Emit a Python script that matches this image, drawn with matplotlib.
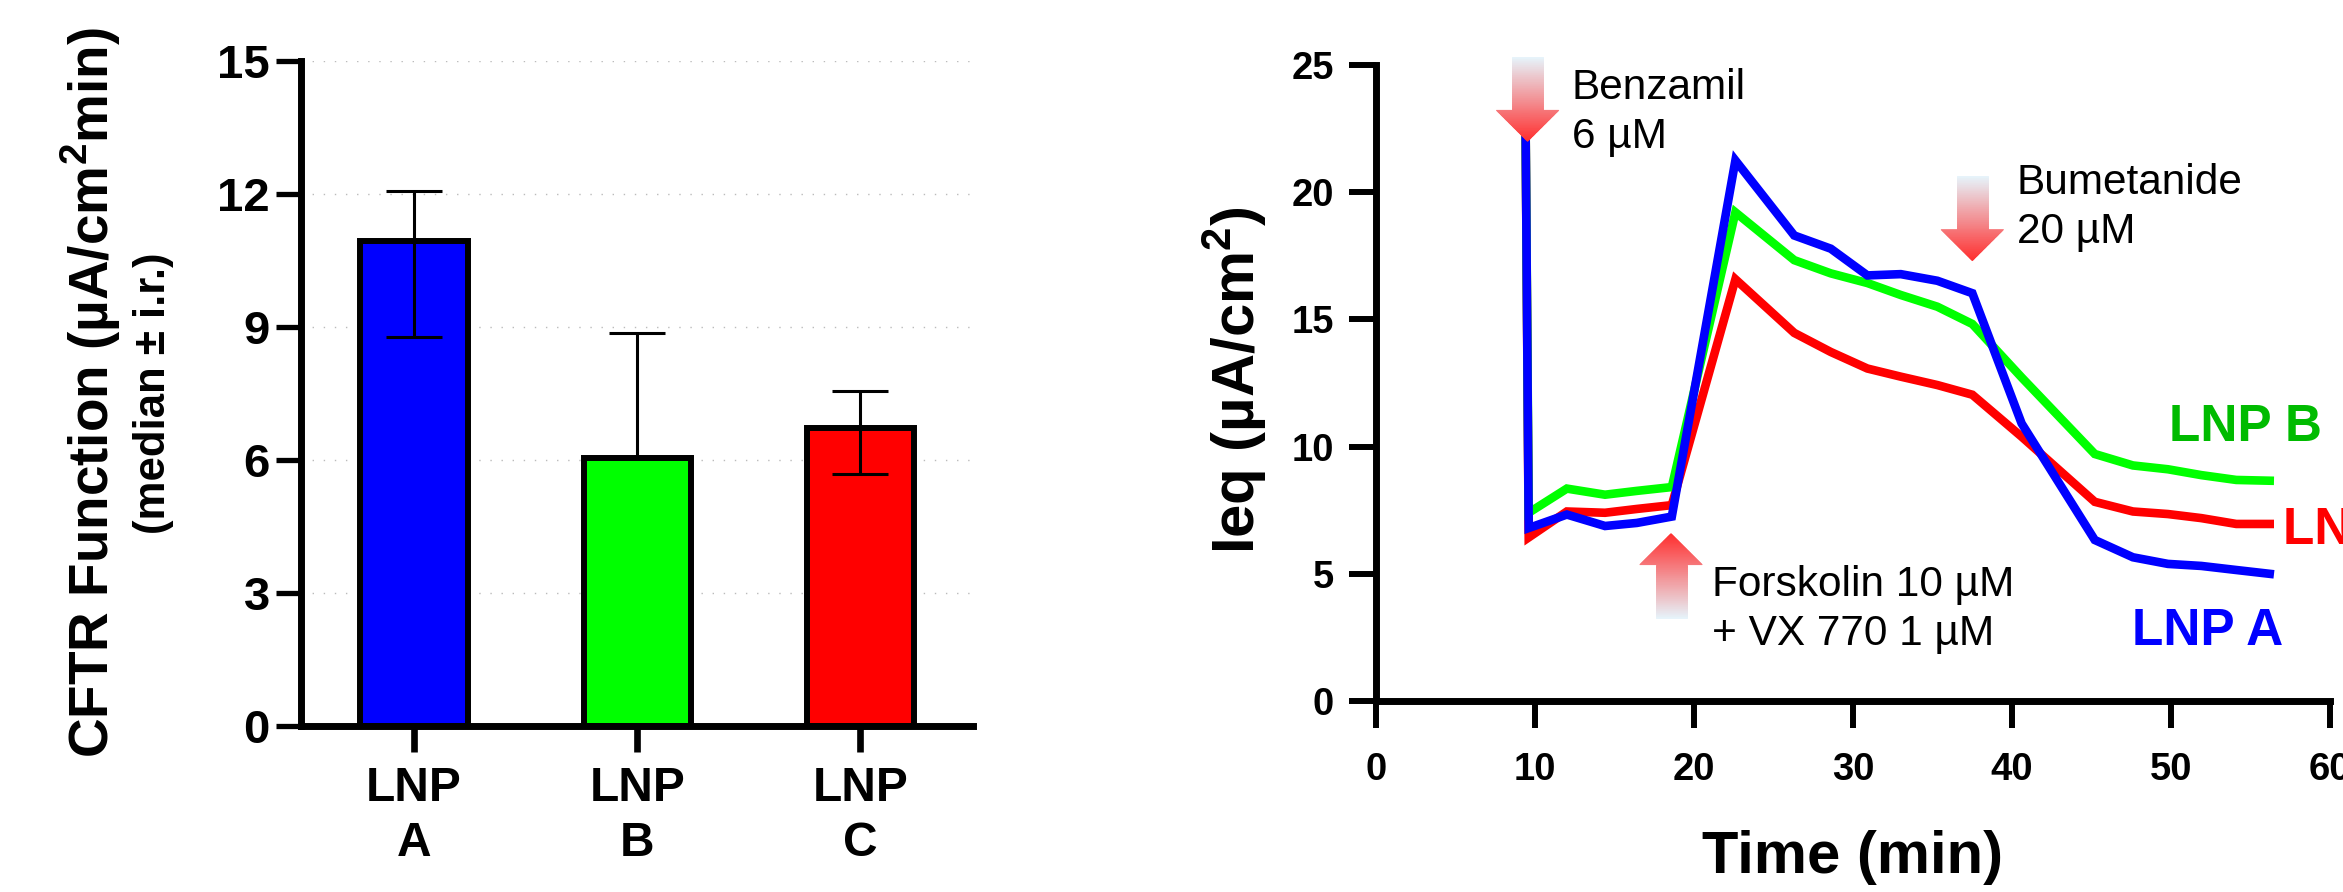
import numpy as np
import matplotlib
matplotlib.use("Agg")
from matplotlib import pyplot as plt
from matplotlib.collections import PolyCollection
from matplotlib.colors import LinearSegmentedColormap

plt.rcParams['font.family'] = ['Liberation Sans', 'DejaVu Sans']
plt.rcParams['mathtext.fontset'] = 'custom'
plt.rcParams['mathtext.rm'] = 'Liberation Sans'
plt.rcParams['mathtext.bf'] = 'Liberation Sans:bold'

# left panel: CFTR function, median with interquartile range
groups = ["LNP\nA", "LNP\nB", "LNP\nC"]
medians = [10.95, 6.05, 6.72]
lower = [8.78, 6.05, 5.68]
upper = [12.08, 8.88, 7.57]
bar_colors = ["#0000FF", "#00FF00", "#FF0000"]

# right panel: Ieq time course
time_min = [9.4, 9.6, 12.0, 14.4, 16.4, 18.6, 22.6, 26.3, 28.6, 30.9, 33.0,
            35.3, 37.5, 40.6, 45.2, 47.6, 49.8, 51.9, 54.1, 56.2]
ieq_a = [23.0, 6.80, 7.33, 6.88, 7.00, 7.25, 21.25, 18.30, 17.78, 16.73, 16.78,
         16.52, 16.03, 10.91, 6.33, 5.65, 5.39, 5.31, 5.15, 5.00]
ieq_b = [23.0, 7.40, 8.35, 8.11, 8.26, 8.41, 19.21, 17.33, 16.81, 16.43, 15.96,
         15.50, 14.82, 12.72, 9.71, 9.26, 9.11, 8.88, 8.69, 8.66]
ieq_c = [23.0, 6.43, 7.45, 7.40, 7.55, 7.70, 16.58, 14.47, 13.72, 13.07, 12.75,
         12.42, 12.04, 10.39, 7.83, 7.45, 7.35, 7.19, 6.96, 6.96]

# drug additions: label, time, arrow tail, arrow tip
additions = [("Benzamil\n6 µM", 9.53, 25.3, 22.0),
             ("Forskolin 10 µM\n+ VX 770 1 µM", 18.55, 3.27, 6.58),
             ("Bumetanide\n20 µM", 37.5, 20.62, 17.31)]
# (x, baseline of last line)
addition_text_pos = [(12.31, 21.74), (21.11, 2.20), (40.3, 18.0)]

grad_cmap = LinearSegmentedColormap.from_list("arrow", ["#E6F4FB", "#FF3030"])


def gradient_arrow(ax, x, tail, tip, shaft=1.95, head=3.92, head_len=1.22):
    base = tip - np.sign(tip - tail) * head_len
    ys_shaft = np.linspace(tail, base, 80)
    ys_head = np.linspace(base, tip, 40)
    polys, cols = [], []
    span = tip - tail
    for y0, y1 in zip(ys_shaft[:-1], ys_shaft[1:]):
        polys.append([(x - shaft / 2, y0), (x + shaft / 2, y0),
                      (x + shaft / 2, y1), (x - shaft / 2, y1)])
        cols.append(grad_cmap(((y0 + y1) / 2 - tail) / span))
    for y0, y1 in zip(ys_head[:-1], ys_head[1:]):
        h0 = head / 2 * abs(tip - y0) / head_len
        h1 = head / 2 * abs(tip - y1) / head_len
        polys.append([(x - h0, y0), (x + h0, y0), (x + h1, y1), (x - h1, y1)])
        cols.append(grad_cmap(((y0 + y1) / 2 - tail) / span))
    pc = PolyCollection(polys, facecolors=cols, edgecolors=cols, linewidths=0.6,
                        zorder=5, clip_on=False)
    ax.add_collection(pc)


fig = plt.figure(figsize=(23.43, 8.92), dpi=100)

# ---- bar chart ----
ax1 = fig.add_axes([0.1285, 0.1861, 0.2867, 0.7450])
xpos = np.arange(len(groups))
ax1.bar(xpos, medians, width=0.48, color=bar_colors, edgecolor="black",
        linewidth=4.3, zorder=2)
yerr = [np.array(medians) - np.array(lower), np.array(upper) - np.array(medians)]
ax1.errorbar(xpos, medians, yerr=yerr, fmt="none", ecolor="black", elinewidth=2.2,
             capsize=20, capthick=2.2, zorder=3)
ax1.set_xlim(-0.506, 2.504)
ax1.set_ylim(0, 15)
ax1.set_yticks([0, 3, 6, 9, 12, 15])
ax1.set_xticks(xpos)
ax1.set_xticklabels(groups, fontsize=34.5, fontweight="bold", linespacing=1.3)
for lab in ax1.get_yticklabels():
    lab.set_fontsize(34)
    lab.set_fontweight("bold")
ax1.yaxis.grid(True, color="#BBBBBB", linewidth=1, linestyle=(0, (1, 7)))
ax1.set_axisbelow(True)
for s in ["top", "right"]:
    ax1.spines[s].set_visible(False)
for s in ["left", "bottom"]:
    ax1.spines[s].set_linewidth(5)
ax1.tick_params(axis="y", length=18, width=3.8, pad=4.5)
ax1.tick_params(axis="x", length=19, width=4.8, pad=9.5)

fig.text(91 / 2343, 0.56, r"CFTR Function (µA/cm$^\mathbf{2}$min)", rotation=90,
         ha="center", va="center", fontsize=39.5, fontweight="bold")
fig.text(154 / 2343, 0.559, "(median ± i.r.)", rotation=90, ha="center",
         va="center", fontsize=31.5, fontweight="bold")

# ---- time course ----
ax2 = fig.add_axes([0.5873, 0.2141, 0.4072, 0.7130])
ax2.plot(time_min, ieq_c, color="#FF0000", lw=6.2, solid_joinstyle="miter", zorder=3)
ax2.plot(time_min, ieq_b, color="#00FF00", lw=6.2, solid_joinstyle="miter", zorder=3)
ax2.plot(time_min, ieq_a, color="#0000FF", lw=6.2, solid_joinstyle="miter", zorder=3)

for (label, t, tail, tip), (tx, ty) in zip(additions, addition_text_pos):
    gradient_arrow(ax2, t, tail, tip)
    ax2.text(tx, ty, label, fontsize=30.5, va="baseline", ha="left",
             linespacing=1.3, zorder=6)

ax2.text(49.87, 10.22, "LNP B", color="#00BB00", fontsize=37, fontweight="bold",
         va="baseline", clip_on=False)
ax2.text(57.04, 6.17, "LNP C", color="#FF0000", fontsize=37, fontweight="bold",
         va="baseline", clip_on=False)
ax2.text(47.55, 2.20, "LNP A", color="#0000FF", fontsize=37, fontweight="bold",
         va="baseline", clip_on=False)

ax2.set_xlim(0, 60)
ax2.set_ylim(0, 25)
ax2.set_xticks(range(0, 61, 10))
ax2.set_yticks(range(0, 26, 5))
for lab in ax2.get_xticklabels() + ax2.get_yticklabels():
    lab.set_fontsize(27.5)
    lab.set_fontweight("bold")
for s in ["top", "right"]:
    ax2.spines[s].set_visible(False)
for s in ["left", "bottom"]:
    ax2.spines[s].set_linewidth(5)
ax2.tick_params(axis="y", length=19.5, width=4.3, pad=11)
ax2.tick_params(axis="x", length=19.5, width=4.3, pad=17)

fig.text(1235 / 2343, 0.574, r"Ieq (µA/cm$^\mathbf{2}$)", rotation=90, ha="center",
         va="center", fontsize=43, fontweight="bold")
fig.text(1853 / 2343, 1 - 873 / 892, "Time (min)", ha="center", va="baseline",
         fontsize=43, fontweight="bold")

fig.savefig("out.png", dpi=100)
